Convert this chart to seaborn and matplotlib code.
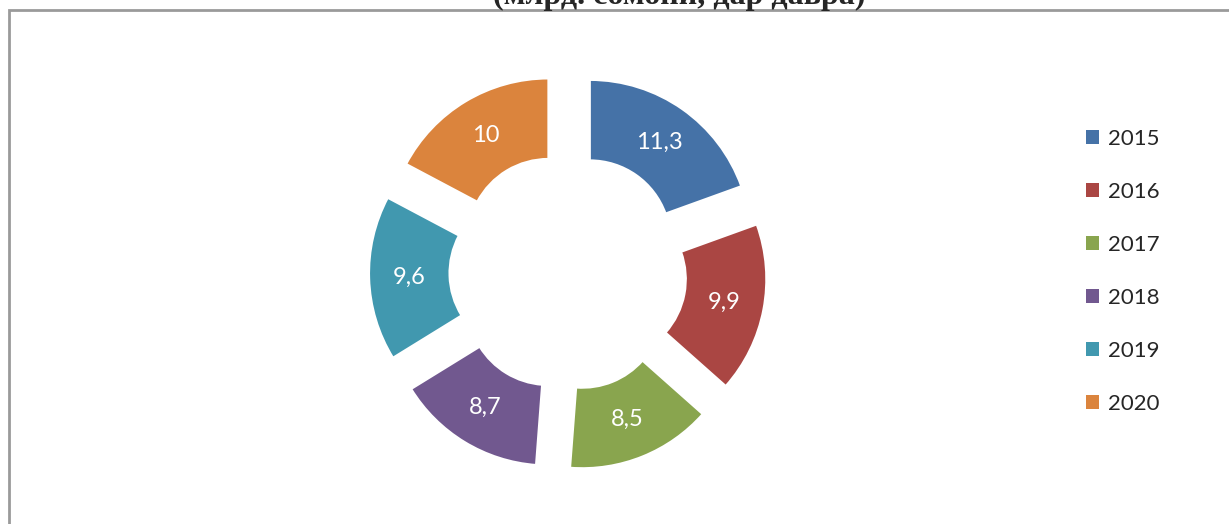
import matplotlib
matplotlib.use("Agg")
import matplotlib.pyplot as plt
import seaborn as sns
from matplotlib.patches import Rectangle, Patch

sns.set_theme(style="white")
plt.rcParams['font.family'] = ['Lato', 'DejaVu Sans']

years = ["2015", "2016", "2017", "2018", "2019", "2020"]
values = [11.3, 9.9, 8.5, 8.7, 9.6, 10]
colors = ["#4572A7", "#AA4643", "#89A54E", "#71588F", "#4198AF", "#DB843D"]
title = "(млрд. сомонӣ, дар давра)"

W, H = 1229, 524
fig = plt.figure(figsize=(W / 100, H / 100), dpi=100)
fig.patch.set_facecolor("white")

# frame (extends past the right and bottom edges)
fig.patches.append(Rectangle((9 / W, -0.05), 1.1, (H - 10) / H + 0.05,
                             transform=fig.transFigure, fill=False,
                             edgecolor="#9a9a9a", linewidth=2, zorder=0))

R = 161.0
cx, cy = 568.0, 272.0
half = 1.5 * R
ax = fig.add_axes([(cx - half) / W, (H - cy - half) / H, 2 * half / W, 2 * half / H])

total = sum(values)

def fmt(p):
    v = p * total / 100.0
    s = f"{v:.1f}"
    if s.endswith(".0"):
        s = s[:-2]
    return s.replace(".", ",")

wedges, texts, autotexts = ax.pie(
    values, colors=colors, startangle=90, counterclock=False,
    explode=[0.236] * len(values), radius=1.0,
    wedgeprops=dict(width=0.5, edgecolor="white", linewidth=1.5),
    autopct=fmt, pctdistance=0.75,
    textprops=dict(color="white", fontsize=17))
ax.set_xlim(-1.5, 1.5)
ax.set_ylim(-1.5, 1.5)
ax.set_aspect("equal")
ax.axis("off")

handles = [Patch(facecolor=c, edgecolor="none") for c in colors]
fig.legend(handles, years, loc="upper left", bbox_to_anchor=(1066 / W, 1 - 109 / H),
           frameon=False, fontsize=16, handlelength=0.6, handleheight=0.6,
           handletextpad=0.4, labelspacing=1.485)

fig.text(679 / W, 1 - 4 / H, title, ha="center", va="baseline",
         fontsize=23, fontweight="bold", family=["Liberation Serif", "DejaVu Serif"])

fig.savefig("out.png", dpi=100)
